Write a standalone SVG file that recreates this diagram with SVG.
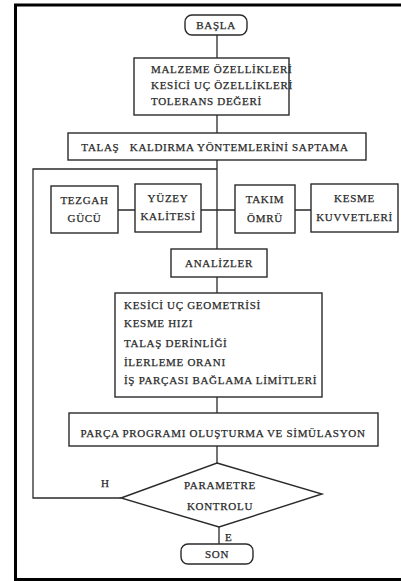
<svg xmlns="http://www.w3.org/2000/svg" width="401" height="581" viewBox="0 0 401 581">
<style>
.b{fill:#fff;stroke:#2a2a2a;stroke-width:1.4}
.c{fill:none;stroke:#2a2a2a;stroke-width:1.3}
.t{font-family:"Liberation Serif","Times New Roman",serif;font-size:11px;fill:#2a2a2a;stroke:#2a2a2a;stroke-width:0.25;letter-spacing:0.7px}
.m{text-anchor:middle}
.f{fill:none;stroke:#000;stroke-width:3}
</style>
<rect width="401" height="581" fill="#fff"/>
<g id="frame"><path class="f" d="M401,5 H15.5 V579.5 H401"/></g>
<g id="connectors">
<path class="c" d="M217,35 V58 M217,115 V133 M217,160 V249 M217,169 H33 V498 H121 M118,210 H135 M201,210 H235 M295,210 H311 M217,277 V293 M217,397 V413 M217,446 V463 M219,527 V544"/>
</g>
<g id="basla"><rect class="b" x="185" y="15" width="62" height="20" rx="7"/><text class="t m" x="216" y="29">BAŞLA</text></g>
<g id="girdiler"><rect class="b" x="134" y="58" width="155" height="57"/>
<text class="t" x="151" y="73">MALZEME ÖZELLİKLERİ</text>
<text class="t" x="151" y="89">KESİCİ UÇ ÖZELLİKLERİ</text>
<text class="t" x="151" y="105">TOLERANS DEĞERİ</text></g>
<g id="saptama"><rect class="b" x="68" y="133" width="298" height="27"/><text class="t m" x="215" y="151" xml:space="preserve">TALAŞ   KALDIRMA YÖNTEMLERİNİ SAPTAMA</text></g>
<g id="tezgah"><rect class="b" x="51" y="186" width="67" height="47"/><text class="t m" x="84.5" y="204">TEZGAH</text><text class="t m" x="84.5" y="222">GÜCÜ</text></g>
<g id="yuzey"><rect class="b" x="135" y="184" width="66" height="48"/><text class="t m" x="168" y="202">YÜZEY</text><text class="t m" x="168" y="220">KALİTESİ</text></g>
<g id="takim"><rect class="b" x="235" y="185" width="60" height="48"/><text class="t m" x="265" y="203">TAKIM</text><text class="t m" x="265" y="222">ÖMRÜ</text></g>
<g id="kesme"><rect class="b" x="311" y="184" width="87" height="48"/><text class="t m" x="354.5" y="202">KESME</text><text class="t m" x="354.5" y="221">KUVVETLERİ</text></g>
<g id="analizler"><rect class="b" x="171" y="249" width="96" height="28"/><text class="t m" x="219" y="267">ANALİZLER</text></g>
<g id="parametreler"><rect class="b" x="115" y="293" width="207" height="104"/>
<text class="t" x="124" y="309">KESİCİ UÇ GEOMETRİSİ</text>
<text class="t" x="124" y="327">KESME HIZI</text>
<text class="t" x="124" y="347">TALAŞ DERİNLİĞİ</text>
<text class="t" x="124" y="366">İLERLEME ORANI</text>
<text class="t" x="124" y="384">İŞ PARÇASI BAĞLAMA LİMİTLERİ</text></g>
<g id="program"><rect class="b" x="69" y="413" width="309" height="33"/><text class="t m" x="223" y="437">PARÇA PROGRAMI OLUŞTURMA VE SİMÜLASYON</text></g>
<g id="kontrol"><polygon class="b" points="217,463 322,494 219,527 121,498"/><text class="t m" x="220" y="489">PARAMETRE</text><text class="t m" x="220" y="510">KONTROLU</text></g>
<text class="t" x="101" y="487">H</text>
<text class="t" x="225" y="541">E</text>
<g id="son"><rect class="b" x="181" y="544" width="72" height="20" rx="7"/><text class="t m" x="217" y="558">SON</text></g>
</svg>
